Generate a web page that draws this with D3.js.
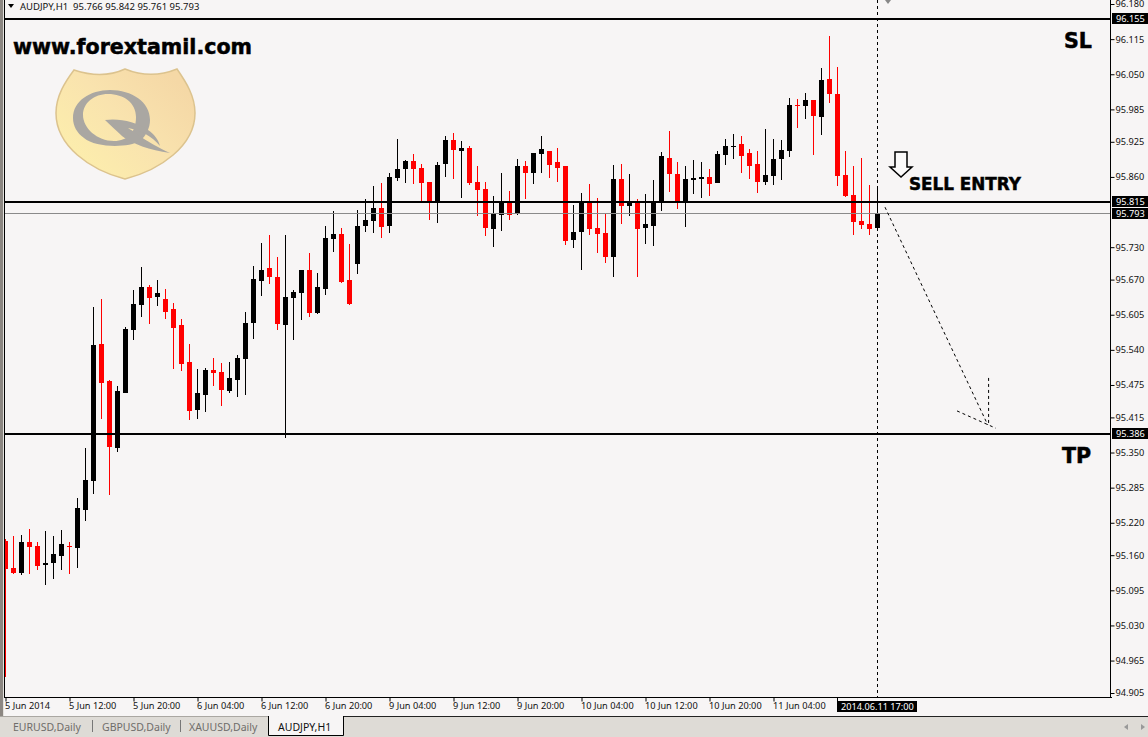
<!DOCTYPE html>
<html>
<head>
<meta charset="utf-8">
<script src="https://cdnjs.cloudflare.com/ajax/libs/d3/7.8.5/d3.min.js"></script>
<style>
  html,body{margin:0;padding:0;background:#f7f5f5;overflow:hidden;}
  text{font-family:"Noto Sans",sans-serif;}
</style>
</head>
<body>
<svg id="chart" width="1148" height="737"></svg>
<script>
// AUDJPY H1 bars, oldest first
const opens=[95.186,95.136,95.127,95.184,95.177,95.142,95.146,95.159,95.177,95.173,95.244,95.297,95.551,95.482,95.358,95.460,95.577,95.623,95.656,95.638,
95.634,95.616,95.586,95.518,95.429,95.456,95.503,95.499,95.464,95.484,95.523,95.590,95.667,95.691,95.675,95.586,95.636,95.645,95.688,95.608,
95.653,95.745,95.754,95.669,95.699,95.769,95.778,95.803,95.769,95.858,95.875,95.889,95.877,95.851,95.814,95.884,95.928,95.908,95.914,95.851,
95.838,95.764,95.790,95.815,95.791,95.880,95.867,95.902,95.908,95.888,95.880,95.743,95.758,95.814,95.765,95.756,95.712,95.856,95.806,95.814,
95.765,95.769,95.814,95.895,95.865,95.814,95.854,95.856,95.860,95.849,95.901,95.915,95.921,95.904,95.884,95.851,95.862,95.893,95.908,95.993,
95.991,96.002,95.971,96.041,96.013,95.864,95.827,95.778,95.773,95.766];
const highs=[95.190,95.196,95.197,95.209,95.184,95.205,95.196,95.207,95.184,95.266,95.358,95.619,95.634,95.484,95.473,95.582,95.651,95.693,95.660,95.669,
95.653,95.627,95.597,95.551,95.505,95.506,95.525,95.516,95.518,95.531,95.610,95.695,95.738,95.752,95.712,95.752,95.651,95.688,95.719,95.682,
95.769,95.797,95.765,95.736,95.799,95.819,95.843,95.849,95.867,95.930,95.891,95.902,95.884,95.851,95.888,95.936,95.941,95.926,95.917,95.880,
95.851,95.825,95.867,95.834,95.893,95.889,95.904,95.936,95.908,95.914,95.880,95.808,95.830,95.847,95.821,95.793,95.882,95.884,95.865,95.819,
95.828,95.854,95.906,95.945,95.888,95.880,95.891,95.888,95.875,95.908,95.930,95.939,95.936,95.912,95.908,95.949,95.930,95.928,96.006,96.004,
96.015,96.002,96.062,96.121,96.063,95.908,95.880,95.895,95.845,95.842];
const lows=[94.935,95.125,95.123,95.125,95.133,95.105,95.116,95.133,95.125,95.136,95.223,95.273,95.412,95.271,95.351,95.460,95.558,95.601,95.588,95.621,
95.597,95.505,95.501,95.410,95.412,95.425,95.473,95.436,95.460,95.453,95.456,95.560,95.640,95.662,95.577,95.377,95.558,95.595,95.601,95.606,
95.642,95.721,95.664,95.623,95.680,95.758,95.756,95.747,95.756,95.853,95.849,95.847,95.814,95.780,95.775,95.860,95.856,95.821,95.845,95.788,
95.751,95.730,95.760,95.780,95.790,95.819,95.847,95.867,95.858,95.851,95.734,95.728,95.688,95.752,95.719,95.701,95.675,95.773,95.788,95.675,
95.736,95.732,95.797,95.832,95.801,95.767,95.828,95.821,95.825,95.849,95.882,95.893,95.867,95.856,95.830,95.845,95.845,95.854,95.897,95.951,
95.967,95.901,95.938,95.997,95.843,95.823,95.752,95.764,95.752,95.761];
const closes=[95.135,95.127,95.184,95.175,95.140,95.146,95.162,95.181,95.175,95.247,95.299,95.549,95.479,95.360,95.464,95.579,95.625,95.656,95.636,95.645,
95.610,95.580,95.514,95.427,95.460,95.503,95.497,95.466,95.488,95.525,95.590,95.671,95.688,95.675,95.588,95.638,95.647,95.688,95.608,95.656,
95.747,95.754,95.666,95.625,95.769,95.780,95.803,95.767,95.860,95.875,95.889,95.875,95.849,95.814,95.882,95.928,95.910,95.914,95.849,95.836,
95.765,95.793,95.814,95.790,95.880,95.867,95.904,95.912,95.882,95.877,95.741,95.758,95.814,95.764,95.754,95.712,95.856,95.806,95.812,95.764,
95.773,95.814,95.899,95.865,95.814,95.856,95.858,95.860,95.847,95.902,95.917,95.917,95.899,95.880,95.851,95.864,95.893,95.910,95.993,95.991,
96.002,95.973,96.039,96.013,95.862,95.825,95.777,95.771,95.764,95.793];

const priceTicks=[96.180,96.115,96.050,95.985,95.925,95.860,95.730,95.670,95.605,95.540,95.475,95.415,95.350,95.285,95.220,95.160,95.095,95.030,94.965,94.905];
const timeTickBars=[0,8,16,24,32,40,48,56,64,72,80,88,96];
const timeTickLabels=['5 Jun 2014','5 Jun 12:00','5 Jun 20:00','6 Jun 04:00','6 Jun 12:00','6 Jun 20:00','9 Jun 04:00','9 Jun 12:00','9 Jun 20:00','10 Jun 04:00','10 Jun 12:00','10 Jun 20:00','11 Jun 04:00'];
const levelPrices=[96.155,95.815,95.386];
const bidPrice=95.793;
const tabNames=['EURUSD,Daily','GBPUSD,Daily','XAUUSD,Daily','AUDJPY,H1'];
// hand drawn arrow, [bar, price] pairs
const arrowShaft=[[110,95.804],[122.85,95.401]];
const arrowLeft=[[119,95.427],[123.85,95.395]];
const arrowRight=[[122.95,95.488],[122.95,95.401]];

const WIDTH=1148, HEIGHT=737;
const PLOT={left:5,right:1111,bottom:697};
const BG='#f7f5f5';
const AXIS_FONT=9.2;
const svg=d3.select('#chart');

const xScale=d3.scaleLinear().domain([0,109]).range([5,877]);
const yScale=d3.scaleLinear().domain([94.905,96.180]).range([693,4]);

// window chrome
svg.append('rect').attr('width',WIDTH).attr('height',HEIGHT).attr('fill',BG);
svg.append('rect').attr('x',0).attr('y',0).attr('width',3).attr('height',717).attr('fill','#8c8782');
svg.append('rect').attr('x',3).attr('y',0).attr('width',1).attr('height',717).attr('fill','#e4e2de');

svg.append('defs').append('clipPath').attr('id','plotClip').append('rect')
    .attr('x',PLOT.left).attr('y',0).attr('width',PLOT.right-PLOT.left).attr('height',PLOT.bottom);

// logo behind the bars
const grad=svg.select('defs').append('linearGradient').attr('id','shield')
    .attr('x1','0%').attr('y1','85%').attr('x2','90%').attr('y2','15%');
grad.append('stop').attr('offset','0%').attr('stop-color','#fdf0ac');
grad.append('stop').attr('offset','55%').attr('stop-color','#f9e3ae');
grad.append('stop').attr('offset','100%').attr('stop-color','#f5d8a6');
const logo=svg.append('g');
logo.append('path')
    .attr('d','M74,70 C92,76 110,76 125,69 C142,76 160,76 177,69 C186,82 195,96 195,113 C195,146 160,170 125,179 C90,170 56,146 56,113 C56,96 65,82 74,70 Z')
    .attr('fill','url(#shield)').attr('stroke','#dcc38e').attr('stroke-width',1.5);
logo.append('path').attr('fill-rule','evenodd').attr('fill','#aaa7a2')
    .attr('d','M73,118 C73,101 90,90 110,90 C132,90 150,102 150,120 C150,128 146,136 140,141 C128,148 96,148 84,138 C77,133 73,126 73,118 Z M83,115 C83,128 97,141 114,141 C128,141 136,132 136,117 C136,103 124,94 108,94 C94,94 83,103 83,115 Z');
logo.append('path').attr('fill','#aaa7a2')
    .attr('d','M105,120 C120,118 136,122 148,130 C154,134 158,139 160,146 C152,136 140,130 128,128 C138,134 146,142 170,153 C150,150 132,144 122,136 C116,130 110,125 105,120 Z');

// bars
const bars=d3.range(opens.length).map(i=>({i,open:opens[i],high:highs[i],low:lows[i],close:closes[i]}));
const barColor=d=>d.close>=d.open?'#000':'#f00';
const plot=svg.append('g').attr('clip-path','url(#plotClip)').attr('shape-rendering','crispEdges');
plot.selectAll('.wick').data(bars).join('rect').attr('class','wick')
    .attr('x',d=>xScale(d.i)).attr('width',1)
    .attr('y',d=>yScale(d.high))
    .attr('height',d=>yScale(d.low)-yScale(d.high))
    .attr('fill',barColor);
plot.selectAll('.body').data(bars).join('rect').attr('class','body')
    .attr('x',d=>xScale(d.i)-2).attr('width',5)
    .attr('y',d=>yScale(Math.max(d.open,d.close)))
    .attr('height',d=>Math.max(1,Math.abs(yScale(d.open)-yScale(d.close))))
    .attr('fill',barColor);

// horizontal levels
svg.append('g').selectAll('rect').data(levelPrices).join('rect')
    .attr('x',PLOT.left).attr('width',PLOT.right-PLOT.left)
    .attr('y',d=>Math.round(yScale(d))).attr('height',2).attr('fill','#000').attr('shape-rendering','crispEdges');
svg.append('rect').attr('x',PLOT.left).attr('width',PLOT.right-PLOT.left)
    .attr('y',yScale(bidPrice)).attr('height',1).attr('fill','#8a8a8a').attr('shape-rendering','crispEdges');

// crosshair at the last bar
svg.append('line').attr('x1',xScale(109)+.5).attr('x2',xScale(109)+.5)
    .attr('y1',0).attr('y2',PLOT.bottom)
    .attr('stroke','#000').attr('stroke-dasharray','3,3');

// drawn arrow
const lineGen=d3.line().x(d=>xScale(d[0])).y(d=>yScale(d[1]));
svg.append('g').selectAll('path').data([arrowShaft,arrowLeft,arrowRight]).join('path')
    .attr('d',lineGen).attr('fill','none').attr('stroke','#000').attr('stroke-dasharray','3,3');

// frame
svg.append('rect').attr('x',4).attr('y',0).attr('width',1).attr('height',PLOT.bottom+1).attr('fill','#000');
svg.append('rect').attr('x',4).attr('y',PLOT.bottom).attr('width',PLOT.right-4+1).attr('height',1).attr('fill','#000');
svg.append('rect').attr('x',PLOT.right-1).attr('y',0).attr('width',1).attr('height',PLOT.bottom+1).attr('fill','#000');

// price axis
const yAxis=svg.append('g').attr('transform',`translate(${PLOT.right-.5},0)`)
    .call(d3.axisRight(yScale).tickValues(priceTicks).tickFormat(d3.format('.3f')).tickSize(4).tickPadding(1));
yAxis.select('.domain').remove();
yAxis.selectAll('text').attr('font-size',AXIS_FONT).attr('fill','#111').style('font-family','"Noto Sans",sans-serif');

// boxed price labels
const boxed=levelPrices.concat([bidPrice]);
svg.append('g').selectAll('rect').data(boxed).join('rect')
    .attr('x',PLOT.right+1).attr('width',WIDTH-PLOT.right-1)
    .attr('y',d=>yScale(d)-5).attr('height',11).attr('fill','#000').attr('shape-rendering','crispEdges');
svg.append('g').selectAll('text').data(boxed).join('text')
    .attr('x',PLOT.right+5).attr('y',d=>yScale(d)+4)
    .attr('font-size',AXIS_FONT).attr('fill','#fff')
    .text(d=>d3.format('.3f')(d));

// time axis
const xAxis=svg.append('g').attr('transform',`translate(.5,${PLOT.bottom+.5})`)
    .call(d3.axisBottom(xScale).tickValues(timeTickBars).tickFormat((d,i)=>timeTickLabels[i]).tickSize(4).tickPadding(1));
xAxis.select('.domain').remove();
xAxis.selectAll('text').attr('text-anchor','start').attr('x',-1).attr('font-size',AXIS_FONT).attr('fill','#111').style('font-family','"Noto Sans",sans-serif');

// crosshair time label
svg.append('rect').attr('x',837).attr('y',701).attr('width',80).attr('height',11).attr('fill','#000');
svg.append('rect').attr('x',837).attr('y',697).attr('width',1).attr('height',4).attr('fill','#000');
svg.append('text').attr('x',841).attr('y',710).attr('font-size',AXIS_FONT).attr('fill','#fff').text('2014.06.11 17:00');

// title row
svg.append('path').attr('d','M8,4 L14,4 L11,8 Z').attr('fill','#000');
svg.append('text').attr('x',20).attr('y',10).attr('font-size',9.5).attr('fill','#111').style('white-space','pre')
    .text('AUDJPY,H1  95.766 95.842 95.761 95.793');
svg.append('path').attr('d','M885,0 L891,0 L888,4 Z').attr('fill','#888');

// annotations
function note(txt,x,y,size){
    svg.append('text').attr('x',x).attr('y',y).attr('font-size',size).attr('font-weight','bold')
        .attr('fill','#000').attr('stroke','#000').attr('stroke-width',.5)
        .style('font-family','"DejaVu Sans",sans-serif').text(txt);
}
note('www.forextamil.com',13,54,20.6);
note('SL',1064,48,20.6);
note('TP',1062,463,20.6);
note('SELL ENTRY',909,190,16.8);
svg.append('path').attr('d','M895,152 L907,152 L907,167 L912,167 L901,177 L890,167 L895,167 Z')
    .attr('fill','#fbfafa').attr('stroke','#000').attr('stroke-width',1.5);

// tab bar
svg.append('rect').attr('x',0).attr('y',717).attr('width',WIDTH).attr('height',20).attr('fill','#dedbd6');
svg.append('rect').attr('x',0).attr('y',716).attr('width',268).attr('height',1).attr('fill','#aaa7a2');
svg.append('rect').attr('x',344).attr('y',716).attr('width',WIDTH-344).attr('height',1).attr('fill','#222');
svg.append('path').attr('d','M268.5,716 V735.5 H343.5 V716').attr('fill',BG).attr('stroke','#000');
const tabX=[13,102,189,278];
svg.append('g').selectAll('text').data(tabNames).join('text')
    .attr('x',(d,i)=>tabX[i]).attr('y',731).attr('font-size',10.5)
    .attr('fill',(d,i)=>i===3?'#111':'#6f6d6a').text(d=>d);
svg.append('g').selectAll('rect').data([92,180]).join('rect')
    .attr('x',d=>d).attr('y',720).attr('width',1).attr('height',12).attr('fill','#777');
svg.append('path').attr('d','M1128,724 L1124,727 L1128,730 Z').attr('fill','#999');
svg.append('path').attr('d','M1141,724 L1145,727 L1141,730 Z').attr('fill','#999');
</script>
</body>
</html>
